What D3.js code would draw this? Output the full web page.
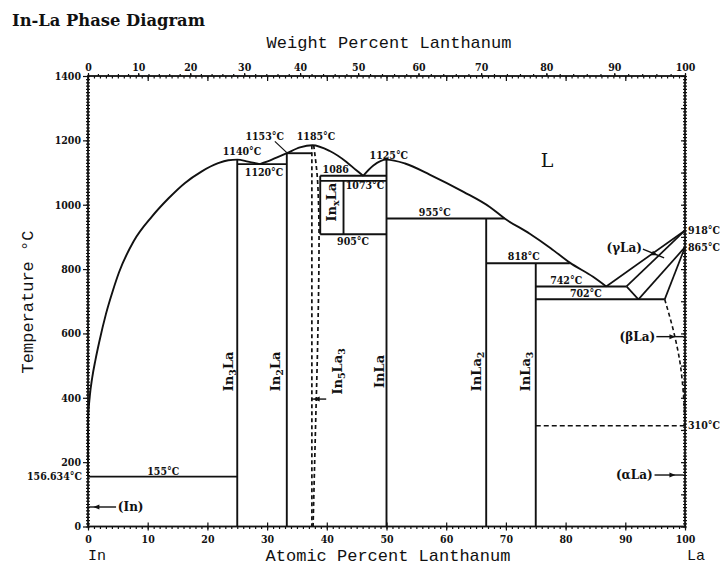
<!DOCTYPE html>
<html><head><meta charset="utf-8">
<script src="https://cdn.jsdelivr.net/npm/d3@7"></script>
<style>
body{margin:0;background:#fff}
text{fill:#111}
</style>
</head><body>
<svg id="c" width="723" height="566" xmlns="http://www.w3.org/2000/svg"></svg>
<script>
// ---------- data (atomic % La, temperature °C) ----------
const liquidusInSide = [[0,156.6],[0.01,330],[0.3,405],[0.7,462],[1.25,518],[1.9,575],[3.0,660],[4.2,735],[5.2,790],[7.6,885],[10.7,963],[13.5,1020],[16.2,1067],[19,1103],[21.8,1129],[23.5,1138],[25,1140],[26.8,1134],[28.8,1126]];
const liquidusMid = [[28.8,1126],[30.8,1140],[33.3,1160],[35.5,1178],[37.6,1185],[40.5,1167],[43.3,1133],[45,1106],[46.1,1090]];
const liquidusLaSide = [[46.1,1090],[47.8,1122],[50,1140],[53.1,1128],[57.3,1093],[62.9,1040],[67.3,993],[69.8,957],[74,910],[77.5,865],[80.7,820],[84.6,776],[86.8,746]];
// horizontal invariant lines: [T, from at%, to at%]
const isotherms = [[155,0,25],[1126,25,33.3],[1160,33.3,37.5],[1090,38.9,50],[1074,38.9,50],[908,38.9,50],[957,50,69.8],[818,66.7,80.7],[746,75,90.2],[706,75,96.6]];
const dashedIsotherms = [[313,75,100]];
// vertical compound lines: [at%, Tbottom, Ttop]
const verticals = [[25,0,1140],[33.3,0,1160],[50,0,1140],[66.7,0,957],[75,0,818],[38.9,908,1090],[42.8,908,1074]];
const in5la3DashA = [[37.5,1185],[37.5,0]];
const in5la3DashB = [[37.8,1185],[38.5,1060],[38.7,900],[38.5,600],[38.1,300],[37.7,0]];
// La-rich side phase boundaries
const laSegments = [[[86.8,746],[100,920]],[[90.2,746],[100,920]],[[90.2,746],[92.2,706]],[[100,868],[92.2,706]],[[100,868],[96.6,706]]];
const betaAlphaDashed = [[96.6,706],[98.3,590],[99.1,517],[99.7,420],[100,313]];
// temperature annotations: [text, at%, T]
const tempLabels = [["1140°C",25.8,1154],["1120°C",29.5,1089],["1153°C",29.6,1201],["1185°C",38.2,1201],["1086",41.5,1099],["1073°C",46.4,1049],["905°C",44.4,875],["1125°C",50.4,1142],["955°C",58.1,965],["818°C",73.0,828],["742°C",80.1,754],["702°C",83.4,713],["155°C",12.6,160]];
const axisSideLabels = [["918°C",920],["865°C",868],["310°C",313]];
// phase labels (rotated): [name parts with subscripts, at% baseline, T centre]
const phaseLabels = [[["In","3","La",""],24.3,482],[["In","2","La",""],32.2,482],[["In","5","La","3"],42.5,482],[["In","","La",""],49.6,482],[["In","","La","2"],65.8,482],[["In","","La","3"],74.0,482],[["In","x","La",""],41.5,1008]];
const atTicksMajor = d3.range(0,101,10);
const tempTicksMajor = d3.range(0,1401,200);
const wtTicksMajor = d3.range(0,101,10);

// ---------- setup ----------
const svg = d3.select("#c");
const x = d3.scaleLinear([0,100],[88,685]);
const y = d3.scaleLinear([0,1400],[526.5,76]);
const ink = "#111";
const wtToAt = w => { if (w<=0) return 0; if (w>=100) return 100; const la=w/138.905, inn=(100-w)/114.818; return 100*la/(la+inn); };
const fmt = d3.format("d");

const tickFont = "'DejaVu Serif Condensed','DejaVu Serif',serif";
const monoFont = "'Liberation Mono','DejaVu Sans Mono',monospace";

// title
svg.append("text").attr("x",12).attr("y",26).attr("font-family","'DejaVu Serif',serif").attr("font-weight","bold")
  .attr("font-size",16).attr("textLength",193).attr("lengthAdjust","spacingAndGlyphs").text("In-La Phase Diagram");

// axis titles
svg.append("text").attr("x",389).attr("y",48).attr("text-anchor","middle").attr("font-family",monoFont).attr("font-size",17).text("Weight Percent Lanthanum");
svg.append("text").attr("x",388).attr("y",561).attr("text-anchor","middle").attr("font-family",monoFont).attr("font-size",17).text("Atomic Percent Lanthanum");
svg.append("text").attr("transform","translate(33,302) rotate(-90)").attr("text-anchor","middle").attr("font-family",monoFont).attr("font-size",17).text("Temperature °C");
svg.append("text").attr("x",x(0)).attr("y",560).attr("font-family",monoFont).attr("font-size",15).text("In");
svg.append("text").attr("x",x(100)+2).attr("y",560).attr("font-family",monoFont).attr("font-size",15).text("La");

function styleAxis(g, fs){
  g.select(".domain").remove();
  g.selectAll("line").attr("stroke",ink).attr("stroke-width",1.2);
  g.selectAll("text").attr("font-family",tickFont).attr("font-weight","bold").attr("font-size",fs).attr("fill",ink);
}
// bottom axis
svg.append("g").attr("transform",`translate(0,${y(0)})`).call(d3.axisBottom(x).tickValues(d3.range(0,101,1)).tickSize(2.5).tickFormat("")).call(g=>styleAxis(g,10));
svg.append("g").attr("transform",`translate(0,${y(0)})`).call(d3.axisBottom(x).tickValues(atTicksMajor).tickSize(4).tickPadding(5).tickFormat(fmt)).call(g=>styleAxis(g,10.5));
svg.append("g").attr("transform",`translate(0,${y(0)})`).call(d3.axisTop(x).tickValues(atTicksMajor).tickSize(4).tickFormat("")).call(g=>styleAxis(g,10));
// top axis: weight % labels, atomic % ticks inside
svg.append("g").attr("transform",`translate(0,${y(1400)})`).call(d3.axisBottom(x).tickValues(d3.range(0,101,1)).tickSize(2.5).tickFormat("")).call(g=>styleAxis(g,10));
svg.append("g").attr("transform",`translate(0,${y(1400)})`).call(d3.axisBottom(x).tickValues(atTicksMajor).tickSize(5).tickFormat("")).call(g=>styleAxis(g,10));
svg.append("g").attr("transform",`translate(0,${y(1400)})`).call(d3.axisTop(x).tickValues(d3.range(0,101,2).map(wtToAt)).tickSize(2).tickFormat("")).call(g=>styleAxis(g,10));
svg.append("g").attr("transform",`translate(0,${y(1400)})`).call(d3.axisTop(x).tickValues(wtTicksMajor.map(wtToAt)).tickSize(3).tickPadding(2).tickFormat((d,i)=>wtTicksMajor[i])).call(g=>styleAxis(g,10.5));
// left axis
svg.append("g").attr("transform",`translate(${x(0)},0)`).call(d3.axisLeft(y).tickValues(d3.range(0,1401,10)).tickSize(2).tickFormat("")).call(g=>styleAxis(g,10));
svg.append("g").attr("transform",`translate(${x(0)},0)`).call(d3.axisRight(y).tickValues(d3.range(0,1401,10)).tickSize(2).tickFormat("")).call(g=>styleAxis(g,10));
svg.append("g").attr("transform",`translate(${x(0)},0)`).call(d3.axisLeft(y).tickValues(tempTicksMajor).tickSize(5).tickPadding(2).tickFormat(fmt)).call(g=>styleAxis(g,10.5));
// right axis
svg.append("g").attr("transform",`translate(${x(100)},0)`).call(d3.axisLeft(y).tickValues(d3.range(0,1401,10)).tickSize(2).tickFormat("")).call(g=>styleAxis(g,10));
svg.append("g").attr("transform",`translate(${x(100)},0)`).call(d3.axisRight(y).tickValues(d3.range(0,1401,10)).tickSize(2).tickFormat("")).call(g=>styleAxis(g,10));
svg.append("g").attr("transform",`translate(${x(100)},0)`).call(d3.axisLeft(y).tickValues(d3.range(0,1401,100)).tickSize(4).tickFormat("")).call(g=>styleAxis(g,10));

// frame
svg.append("rect").attr("x",x(0)).attr("y",y(1400)).attr("width",x(100)-x(0)).attr("height",y(0)-y(1400))
  .attr("fill","none").attr("stroke",ink).attr("stroke-width",1.8);

const plot = svg.append("g").attr("fill","none").attr("stroke",ink).attr("stroke-width",1.9);
const curve = d3.line().x(d=>x(d[0])).y(d=>y(d[1])).curve(d3.curveMonotoneX);
const straight = d3.line().x(d=>x(d[0])).y(d=>y(d[1]));
[liquidusInSide, liquidusMid, liquidusLaSide].forEach(s=>plot.append("path").attr("d",curve(s)));
isotherms.forEach(([t,a,b])=>plot.append("path").attr("d",straight([[a,t],[b,t]])));
dashedIsotherms.forEach(([t,a,b])=>plot.append("path").attr("stroke-dasharray","5,3").attr("stroke-width",1.6).attr("d",straight([[a,t],[b,t]])));
verticals.forEach(([c,t0,t1])=>plot.append("path").attr("d",straight([[c,t0],[c,t1]])));
plot.append("path").attr("stroke-dasharray","4,3").attr("stroke-width",1.7).attr("d",straight(in5la3DashA));
plot.append("path").attr("stroke-dasharray","4,3").attr("stroke-width",1.7).attr("d",d3.line().x(d=>x(d[0])).y(d=>y(d[1])).curve(d3.curveMonotoneY)(in5la3DashB));
laSegments.forEach(s=>plot.append("path").attr("stroke-width",1.7).attr("d",straight(s)));
plot.append("path").attr("stroke-dasharray","4,3").attr("stroke-width",1.6).attr("d",d3.line().x(d=>x(d[0])).y(d=>y(d[1])).curve(d3.curveMonotoneY)(betaAlphaDashed));

// leader for 1153
plot.append("path").attr("stroke-width",1.2).attr("d",straight([[31.3,1197],[33.3,1162]]));

// temperature labels
const lab = svg.append("g").attr("font-family",tickFont).attr("font-weight","bold").attr("font-size",10.5);
tempLabels.forEach(([t,a,T])=>lab.append("text").attr("x",x(a)).attr("y",y(T)).attr("text-anchor","middle").text(t));
axisSideLabels.forEach(([t,T])=>lab.append("text").attr("x",x(100)+3).attr("y",y(T)+3.5).text(t));
lab.append("text").attr("x",x(0)-6).attr("y",y(156.6)+3.5).attr("text-anchor","end").text("156.634°C");

// L
svg.append("text").attr("x",x(76.9)).attr("y",y(1117)).attr("text-anchor","middle").attr("font-family","'DejaVu Serif',serif").attr("font-size",19).text("L");

// phase labels rotated
phaseLabels.forEach(([p,a,T])=>{
  const t = svg.append("text").attr("transform",`translate(${x(a)},${y(T)}) rotate(-90)`).attr("text-anchor","middle")
    .attr("font-family","'DejaVu Serif',serif").attr("font-weight","bold").attr("font-size",13);
  t.append("tspan").text(p[0]);
  if(p[1]) { t.append("tspan").attr("font-size",9.5).attr("dy",3).text(p[1]); t.append("tspan").attr("dy",-3).text(p[2]); }
  else t.append("tspan").text(p[2]);
  if(p[3]) t.append("tspan").attr("font-size",9.5).attr("dy",3).text(p[3]);
});

// phase-field labels with arrows
const fieldFont = "'DejaVu Serif',serif";
function fieldLabel(txt, a, T, anchor){
  svg.append("text").attr("x",x(a)).attr("y",y(T)+4).attr("text-anchor",anchor).attr("font-family",fieldFont).attr("font-weight","bold").attr("font-size",12).text(txt);
}
function arrow(p0, p1, head){
  plot.append("path").attr("stroke-width",1.4).attr("d",straight([p0,p1]));
  const hx = x(head[0]), hy = y(head[1]);
  const ang = Math.atan2(y(p1[1])-y(p0[1]), x(p1[0])-x(p0[0]));
  const L=6, W=2.5;
  const bx = hx - L*Math.cos(ang), by = hy - L*Math.sin(ang);
  const nx = -Math.sin(ang), ny = Math.cos(ang);
  svg.append("path").attr("fill",ink).attr("d",`M${hx},${hy}L${bx+nx*W},${by+ny*W}L${bx-nx*W},${by-ny*W}Z`);
}
fieldLabel("(In)",5.0,60.6,"start");
arrow([4.7,60.6],[0.15,60.6],[0.9,60.6]);
fieldLabel("(αLa)",94.6,160,"end");
arrow([94.9,160],[99.8,160],[98.4,160]);
fieldLabel("(βLa)",95.0,590,"end");
arrow([95.2,590],[99.8,590],[98.4,590]);
fieldLabel("(γLa)",92.8,865,"end");
arrow([92.95,862],[96.5,835],[95.4,843]);
arrow([39.9,396],[37.5,396],[37.8,396]);
</script>
</body></html>
